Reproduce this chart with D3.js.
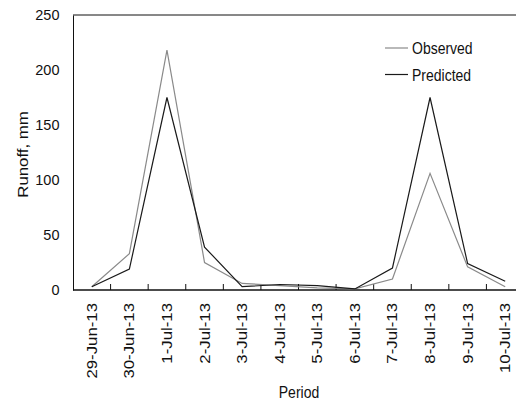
<!DOCTYPE html>
<html>
<head>
<meta charset="utf-8">
<script src="https://cdn.jsdelivr.net/npm/d3@7/dist/d3.min.js"></script>
<style>
  body { margin: 0; background: #fff; }
  svg { display: block; }
  text { font-family: "Liberation Sans", Arial, sans-serif; fill: #111; }
</style>
</head>
<body>
<script>
// data
let periods = ['29-Jun-13', '30-Jun-13', '1-Jul-13', '2-Jul-13', '3-Jul-13', '4-Jul-13',
               '5-Jul-13', '6-Jul-13', '7-Jul-13', '8-Jul-13', '9-Jul-13', '10-Jul-13']
let observed = [3, 33, 218, 25, 6, 4, 2, 1, 10, 106, 21, 3]
let predicted = [3, 19, 175, 39, 3, 5, 4, 1, 20, 175, 24, 8]
let yTicks = [0, 50, 100, 150, 200, 250]

let svgWidth = 516
let svgHeight = 400

let svg = d3.select('body').append('svg')
            .attr('width', svgWidth)
            .attr('height', svgHeight)

let margin = {top: 15, left: 73, bottom: 110}
let innerHeight = svgHeight - margin.top - margin.bottom
// the category axis runs a bit past the right edge of the picture
let innerWidth = 451

// the original picture is stretched a little in height, text too
let stretch = 1.2

let inner = svg.append('g')
               .attr('transform', 'translate(' + margin.left + ',' + margin.top + ')')

let xScale = d3.scaleBand().domain(periods).range([0, innerWidth])
let yScale = d3.scaleLinear().domain([0, 250]).range([innerHeight, 0])

// top border
inner.append('line')
     .attr('x1', 0).attr('x2', svgWidth)
     .attr('y1', 0).attr('y2', 0)
     .attr('stroke', '#111').attr('stroke-width', 1)

// y axis: line and labels, no tick marks
let yAxis = d3.axisLeft(yScale).tickValues(yTicks).tickSize(0).tickPadding(13.5)
let y = inner.append('g').call(yAxis)
y.select('.domain').attr('stroke', '#111')
y.selectAll('text')
 .style('font-size', '14.5px')
 .attr('font-family', null)
 .attr('dy', '0.34em')

// x axis: ticks between categories, pointing inward
let x = inner.append('g').attr('transform', 'translate(0,' + innerHeight + ')')
x.append('line')
 .attr('x1', 0).attr('x2', svgWidth)
 .attr('stroke', '#111').attr('stroke-width', 1.5)
x.selectAll('.sep')
 .data(periods.slice(1))
 .join('line')
 .classed('sep', true)
 .attr('x1', d => xScale(d)).attr('x2', d => xScale(d))
 .attr('y1', 0).attr('y2', -6)
 .attr('stroke', '#111')
x.selectAll('.xlab')
 .data(periods)
 .join('text')
 .classed('xlab', true)
 .attr('transform', d => 'translate(' + (xScale(d) + xScale.bandwidth() / 2 + 5) + ',13) scale(1,' + stretch + ') rotate(-90)')
 .attr('text-anchor', 'end')
 .style('font-size', '14px')
 .text(d => d)

let line = d3.line()
             .x((d, i) => xScale(periods[i]) + xScale.bandwidth() / 2)
             .y(d => yScale(d))

inner.append('path').datum(observed)
     .attr('d', line).attr('fill', 'none')
     .attr('stroke', '#8a8a8a').attr('stroke-width', 1.2)
inner.append('path').datum(predicted)
     .attr('d', line).attr('fill', 'none')
     .attr('stroke', '#1a1a1a').attr('stroke-width', 1.2)

// legend
let legend = [{name: 'Observed', color: '#8a8a8a'}, {name: 'Predicted', color: '#1a1a1a'}]
let lg = svg.selectAll('.legend')
            .data(legend)
            .join('g')
            .classed('legend', true)
            .attr('transform', (d, i) => 'translate(385,' + (48 + i * 26.5) + ')')
lg.append('line').attr('x1', 0).attr('x2', 23)
  .attr('stroke', d => d.color).attr('stroke-width', 1.2)
lg.append('text')
  .attr('transform', 'translate(27,6) scale(1,' + stretch + ')')
  .style('font-size', '14px')
  .text(d => d.name)

// axis titles
svg.append('text')
   .attr('transform', 'translate(28,' + (margin.top + innerHeight / 2 + 2) + ') scale(1,' + stretch + ') rotate(-90)')
   .attr('text-anchor', 'middle')
   .style('font-size', '14px')
   .text('Runoff, mm')
svg.append('text')
   .attr('transform', 'translate(299,398) scale(1,' + stretch + ')')
   .attr('text-anchor', 'middle')
   .style('font-size', '14px')
   .text('Period')
</script>
</body>
</html>
